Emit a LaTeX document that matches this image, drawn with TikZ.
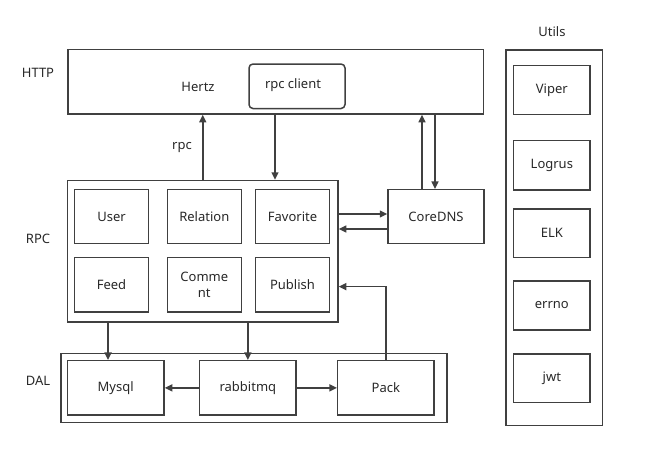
\documentclass[tikz,border=0pt]{standalone}
\usepackage{fontspec}
\setmainfont{Noto Sans}
\usetikzlibrary{arrows.meta}
\definecolor{linec}{RGB}{64,64,64}
\definecolor{txtc}{RGB}{40,40,40}
\tikzset{
  box/.style={draw=linec, line width=1.5pt, inner sep=0pt, text=txtc, font=\fontsize{13}{16}\selectfont, align=center},
  lbl/.style={text=txtc, font=\fontsize{13}{16}\selectfont, inner sep=0pt},
  arr/.style={draw=linec, line width=1.5pt, -{Triangle[length=7.5pt,width=7pt]}},
}
\begin{document}
\begin{tikzpicture}[x=1pt,y=-1pt]
\useasboundingbox (0,0) rectangle (657,453);
% labels
\node[lbl] (lhttp) at (38,73) {HTTP};
\node[lbl] (lrpc) at (38,239) {RPC};
\node[lbl] (ldal) at (38,381) {DAL};
\node[lbl] (lutils) at (552,31.5) {Utils};
% HTTP
\node[box, minimum width=415.5pt, minimum height=64.5pt] (http) at (275.75,81.75) {};
\node[lbl] (hertz) at (198,86.5) {Hertz};
\node[box, rounded corners=4pt, minimum width=96pt, minimum height=44.5pt] (client) at (297,86.25) {};
\node[lbl] (clienttxt) at (293,85.5) {rpc client};
% RPC
\node[box, minimum width=270.5pt, minimum height=141.5pt] (rpc) at (202.75,251.25) {};
\node[box, minimum width=73.6pt, minimum height=54pt] (user) at (111.5,216.7) {User};
\node[box, minimum width=74pt, minimum height=54pt] (relation) at (204.3,216.7) {Relation};
\node[box, minimum width=73.6pt, minimum height=54pt] (favorite) at (292.5,216.7) {Favorite};
\node[box, minimum width=73.6pt, minimum height=54.3pt] (feed) at (111.5,284.85) {Feed};
\node[box, minimum width=74pt, minimum height=54.3pt] (comment) at (204.3,284.85) {Comme\\nt};
\node[box, minimum width=73.6pt, minimum height=54.3pt] (publish) at (292.5,284.85) {Publish};
\node[box, minimum width=96pt, minimum height=54pt] (coredns) at (436,216.7) {CoreDNS};
% DAL
\node[box, minimum width=386pt, minimum height=68.6pt] (dal) at (254,388) {};
\node[box, minimum width=96.7pt, minimum height=54.3pt] (mysql) at (115.65,387.85) {Mysql};
\node[box, minimum width=96.3pt, minimum height=54.3pt] (rabbit) at (247.85,387.85) {rabbitmq};
\node[box, minimum width=96.3pt, minimum height=54.3pt] (pack) at (385.85,387.85) {Pack};
% Utils
\node[box, minimum width=96.3pt, minimum height=375.7pt] (utils) at (554.15,237.85) {};
\node[box, minimum width=76.3pt, minimum height=49pt] (viper) at (551.85,90.2) {Viper};
\node[box, minimum width=76.3pt, minimum height=49.3pt] (logrus) at (551.85,165.35) {Logrus};
\node[box, minimum width=76.3pt, minimum height=48.7pt] (elk) at (551.85,233.35) {ELK};
\node[box, minimum width=76.3pt, minimum height=49pt] (errno) at (551.85,305.5) {errno};
\node[box, minimum width=76.3pt, minimum height=48.7pt] (jwt) at (551.85,378.35) {jwt};
% arrows HTTP <-> RPC
\draw[arr] (rpc.north) -- (http.south -| rpc.north);
\node[lbl] (rpclbl) at (182,148) {rpc};
\draw[arr] ([xshift=-0.75pt]http.south) -- ([xshift=-0.75pt]rpc.north -| http.south);
% HTTP <-> CoreDNS
\draw[arr] ([xshift=-14pt]coredns.north) -- ([xshift=-14pt]http.south -| coredns.north);
\draw[arr] ([xshift=-1pt]http.south -| coredns.north) -- ([xshift=-1pt]coredns.north);
% RPC <-> CoreDNS
\draw[arr] ([yshift=2.7pt]rpc.east |- coredns.west) -- ([yshift=2.7pt]coredns.west);
\draw[arr] ([yshift=-12.3pt]coredns.west) -- ([yshift=-12.3pt]rpc.east |- coredns.west);
% Pack -> Publish
\draw[arr] ([xshift=0.15pt]pack.north) |- ([yshift=-1.8pt]rpc.east |- publish.east);
% RPC -> DAL
\draw[arr] ([xshift=-7.6pt]mysql.north |- rpc.south) -- ([xshift=-7.6pt]mysql.north);
\draw[arr] (rabbit.north |- rpc.south) -- (rabbit.north);
% DAL internal
\draw[arr] (rabbit.west) -- (mysql.east);
\draw[arr] (rabbit.east) -- (pack.west);
\end{tikzpicture}
\end{document}
